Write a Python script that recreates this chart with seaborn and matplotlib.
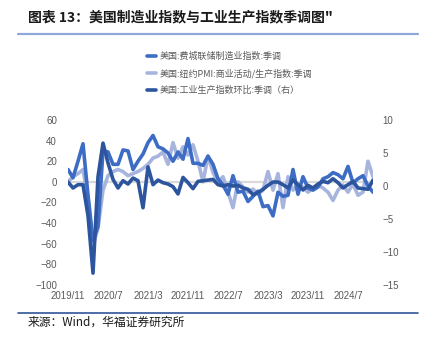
import matplotlib
matplotlib.use("Agg")
import matplotlib.pyplot as plt
from matplotlib.lines import Line2D
import numpy as np
import pandas as pd
import seaborn as sns

# ---- data (monthly, 2019/11 .. 2024/12) ----
months = pd.period_range("2019-11", "2024-12", freq="M").strftime("%Y/%-m").tolist()

philly = [12, 4, 20, 37, -13, -57, -43, 30, 29, 17, 17, 31,
          30, 12, 20, 27, 38, 45, 34, 32, 28, 20, 29, 22,
          42, 18, 18, 16, 25, 17, 3, -3, -12, 6, -10, -9,
          -19, -14, -9, -24, -23, -33, -10, -14, -13, 12, -12, 5,
          -6, -8, -5, 3, 5, 9, 7, 3, 15, -1, 3, 6,
          -4, -10]

nypmi = [0, 5, 8, 12, -15, -62, -45, -8, 6, 10, 12, 10,
         6, 8, 10, 13, 17, 23, 25, 29, 17, 38, 23, 34,
         26, 36, 20, 0, 25, 9, 0, 5, -10, -25, 0, -5,
         -10, -7, -12, -8, 10, -8, 8, -25, 5, -8, -3, -5,
         -10, -6, -3, -6, -10, -18, -8, -3, -10, -2, -13, -10,
         20, 5]

ip_mom = [0.6, -0.3, 0.2, 0.2, -4.5, -13.2, 1.4, 6.5, 3.5, 1.0, -0.3, 0.8,
          0.3, 1.2, 0.8, -3.3, 2.9, 0.2, 0.9, 0.5, 0.3, -0.1, -1.2, 1.3,
          0.5, -0.4, 0.7, 0.8, 0.9, 1.0, 0.2, 0.0, 0.2, 0.0, 0.1, -0.3,
          -0.5, -1.3, -1.0, -0.5, 0.1, 0.6, 0.6, 0.2, -0.3, 0.9, 0.2, -0.6,
          0.1, -0.3, 0.3, 0.7, 0.5, 1.1, 0.5, -0.3, 0.2, 0.7, -0.3, -0.4,
          -0.5, 0.9]

labels = ["美国:费城联储制造业指数:季调",
          "美国:纽约PMI:商业活动/生产指数:季调",
          "美国:工业生产指数环比:季调（右）"]

left_ticks = [-100, -80, -60, -40, -20, 0, 20, 40, 60]
right_ticks = [-15, -10, -5, 0, 5, 10]
xtick_idx = [0, 8, 16, 24, 32, 40, 48, 56]

df = pd.DataFrame({"idx": np.arange(len(months)), "month": months,
                   "philly": philly, "nypmi": nypmi, "ip": ip_mom})

# ---- style ----
sns.set_theme(style="white")
plt.rcParams["font.family"] = ["Liberation Sans", "Noto Sans CJK SC", "DejaVu Sans"]
plt.rcParams["axes.unicode_minus"] = True

c_mid = "#3D6CC4"
c_light = "#A7B5DE"
c_dark = "#2D559E"
grey = "#595959"

fig = plt.figure(figsize=(4.21, 3.39), dpi=100)
ax = fig.add_axes([68/421, (339-285)/339, (373-68)/421, 165/339])
ax2 = ax.twinx()

ax.axhline(0, color="#D9D9D9", lw=1.6, zorder=0)
sns.lineplot(data=df, x="idx", y="philly", ax=ax, color=c_mid, lw=2.6, zorder=3)
sns.lineplot(data=df, x="idx", y="nypmi", ax=ax, color=c_light, lw=2.6, zorder=2)
sns.lineplot(data=df, x="idx", y="ip", ax=ax2, color=c_dark, lw=2.6, zorder=4)

ax.set_xlim(0, len(months) - 1)
ax.set_ylim(-100, 60)
ax2.set_ylim(-15, 10)
ax.set_yticks(left_ticks)
ax2.set_yticks(right_ticks)
ax.set_xticks(xtick_idx)
ax.set_xticklabels([months[i] for i in xtick_idx])
ax.set_xlabel("")
ax.set_ylabel("")
ax2.set_ylabel("")
for a in (ax, ax2):
    for s in a.spines.values():
        s.set_visible(False)
    a.tick_params(length=0, labelsize=7, labelcolor=grey)
ax.tick_params(axis="y", pad=8)
ax2.tick_params(axis="y", pad=7)
ax.tick_params(axis="x", pad=4)
ax.grid(False)
ax2.grid(False)

handles = [Line2D([], [], color=c_mid, lw=2.6),
           Line2D([], [], color=c_light, lw=2.6),
           Line2D([], [], color=c_dark, lw=2.6)]
leg = fig.legend(handles, labels, loc="upper left",
                 bbox_to_anchor=(147/421, 1 - 52/339),
                 bbox_transform=fig.transFigure, frameon=False,
                 fontsize=6.5, handlelength=1.0, handletextpad=0.4,
                 labelspacing=0.85, borderpad=0, borderaxespad=0)
for t in leg.get_texts():
    t.set_color(grey)
    t.set_family(["Noto Sans CJK SC", "DejaVu Sans"])

fig.text(28/421, 1 - 17/339, "图表 13：美国制造业指数与工业生产指数季调图\"",
         fontsize=10, fontweight="bold", va="center", ha="left",
         family=["Noto Sans CJK SC", "DejaVu Sans"], color="#1a1a1a")
fig.add_artist(Line2D([18/421, 418/421], [1 - 34/339, 1 - 34/339],
                      transform=fig.transFigure, color="#8FA6D8", lw=1.6))
fig.add_artist(Line2D([18/421, 418/421], [1 - 313/339, 1 - 313/339],
                      transform=fig.transFigure, color="#2F5597", lw=1.2))
fig.text(28/421, 1 - 322/339, "来源：Wind，华福证券研究所",
         fontsize=8.5, va="center", ha="left",
         family=["Noto Sans CJK SC", "DejaVu Sans"], color="#1a1a1a")

fig.savefig("out.png", dpi=100)
